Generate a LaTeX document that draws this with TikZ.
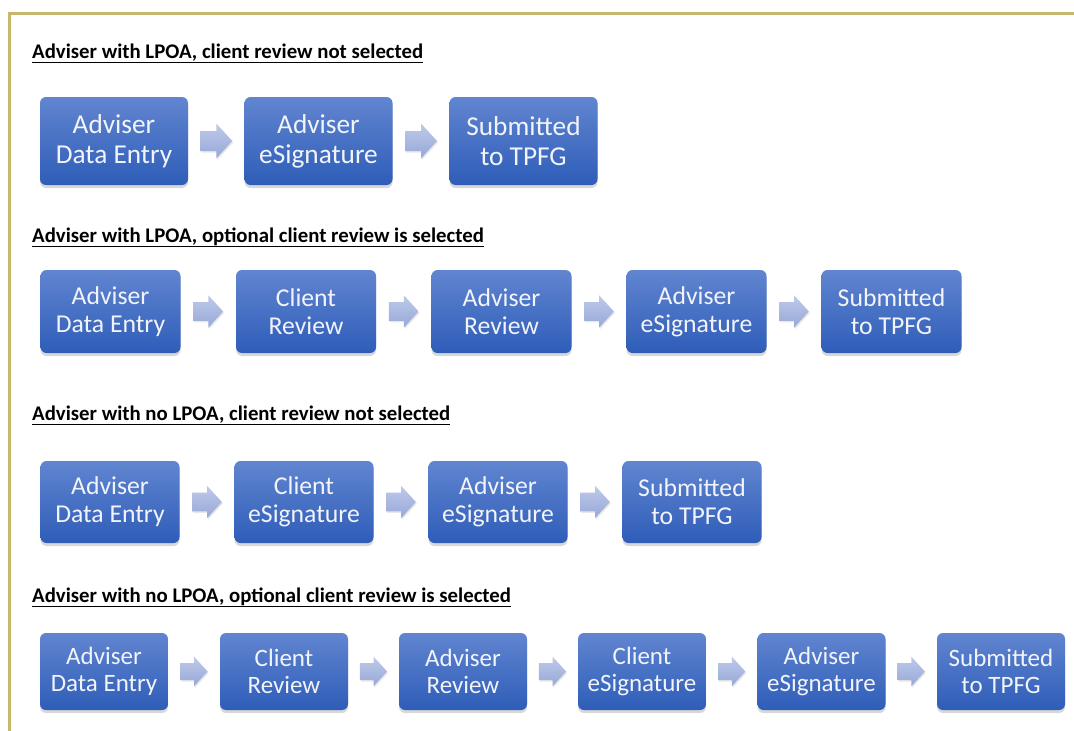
\documentclass[tikz,border=0pt]{standalone}
\usepackage{fontspec}
\setmainfont{Carlito}
\usetikzlibrary{shadows,calc}
\definecolor{boxtop}{HTML}{6185D0}
\definecolor{boxbot}{HTML}{2E5DB8}
\definecolor{arrtop}{HTML}{BFCAEA}
\definecolor{arrbot}{HTML}{96A8D8}
\definecolor{goldline}{HTML}{C9B66E}
\definecolor{boxtext}{HTML}{F2F4FA}
\tikzset{
  stepbox/.style={rounded corners=6pt, top color=boxtop, bottom color=boxbot,
    text=boxtext, align=center, inner sep=0pt,
    drop shadow={shadow xshift=0pt, shadow yshift=-3pt, opacity=0.25, fill=black!60}},
  rowA/.style={stepbox, minimum width=148pt, minimum height=88pt, font=\fontsize{27.3}{30}\selectfont},
  rowB/.style={stepbox, minimum width=140pt, minimum height=83pt, font=\fontsize{25.7}{28}\selectfont},
  rowC/.style={stepbox, minimum width=139pt, minimum height=82pt, font=\fontsize{25.7}{28}\selectfont},
  rowD/.style={stepbox, minimum width=128pt, minimum height=77pt, font=\fontsize{25}{27}\selectfont},
  arrowfill/.style={top color=arrtop, bottom color=arrbot, draw=none,
    drop shadow={shadow xshift=1pt, shadow yshift=-1.5pt, opacity=0.15, fill=black!60}},
  heading/.style={anchor=base west, inner sep=0pt, font=\fontsize{20.8}{23}\selectfont\bfseries, text=black}
}
\newcommand{\flowarr}[4]{%
  \coordinate (#1) at ($(#2.east)!0.5!(#3.west)$);
  \begin{scope}[shift={(#1)}, scale=#4]
    \path[arrowfill] (-16,-10) -- (0,-10) -- (0,-17.5) -- (16,0) -- (0,17.5) -- (0,10) -- (-16,10) -- cycle;
  \end{scope}}
\begin{document}
\begin{tikzpicture}[x=1pt,y=-1pt]
\useasboundingbox (0,0) rectangle (1074,731);
\fill[white] (0,0) rectangle (1074,731);
\draw[goldline, line width=3pt] (9,731) -- (9,13) -- (1074,13);

% Row 1
\node[heading] (h1) at (32,58) {\underline{Adviser with LPOA, client review not selected}};
\node[rowA] (a1) at (114,141) {Adviser\\Data Entry};
\node[rowA] (a2) at (318.5,141) {Adviser\\eSignature};
\node[rowA] (a3) at (523.5,141) {Submitted\\to TPFG};
\flowarr{aa1}{a1}{a2}{1}
\flowarr{aa2}{a2}{a3}{1}

% Row 2
\node[heading] (h2) at (32,242) {\underline{Adviser with LPOA, optional client review is selected}};
\node[rowB] (b1) at (110.5,311.5) {Adviser\\Data Entry};
\node[rowB] (b2) at (306,311.5) {Client\\Review};
\node[rowB] (b3) at (501.5,311.5) {Adviser\\Review};
\node[rowB] (b4) at (696.5,311.5) {Adviser\\eSignature};
\node[rowB] (b5) at (891.5,311.5) {Submitted\\to TPFG};
\flowarr{ba1}{b1}{b2}{0.93}
\flowarr{ba2}{b2}{b3}{0.93}
\flowarr{ba3}{b3}{b4}{0.93}
\flowarr{ba4}{b4}{b5}{0.93}

% Row 3
\node[heading] (h3) at (32,420) {\underline{Adviser with no LPOA, client review not selected}};
\node[rowC] (c1) at (110,502) {Adviser\\Data Entry};
\node[rowC] (c2) at (304,502) {Client\\eSignature};
\node[rowC] (c3) at (498,502) {Adviser\\eSignature};
\node[rowC] (c4) at (692,502) {Submitted\\to TPFG};
\flowarr{ca1}{c1}{c2}{0.93}
\flowarr{ca2}{c2}{c3}{0.93}
\flowarr{ca3}{c3}{c4}{0.93}

% Row 4
\node[heading] (h4) at (32,602) {\underline{Adviser with no LPOA, optional client review is selected}};
\node[rowD] (d1) at (104,671.5) {Adviser\\Data Entry};
\node[rowD] (d2) at (284,671.5) {Client\\Review};
\node[rowD] (d3) at (463,671.5) {Adviser\\Review};
\node[rowD] (d4) at (642,671.5) {Client\\eSignature};
\node[rowD] (d5) at (821.5,671.5) {Adviser\\eSignature};
\node[rowD] (d6) at (1001,671.5) {Submitted\\to TPFG};
\flowarr{da1}{d1}{d2}{0.85}
\flowarr{da2}{d2}{d3}{0.85}
\flowarr{da3}{d3}{d4}{0.85}
\flowarr{da4}{d4}{d5}{0.85}
\flowarr{da5}{d5}{d6}{0.85}
\end{tikzpicture}
\end{document}
